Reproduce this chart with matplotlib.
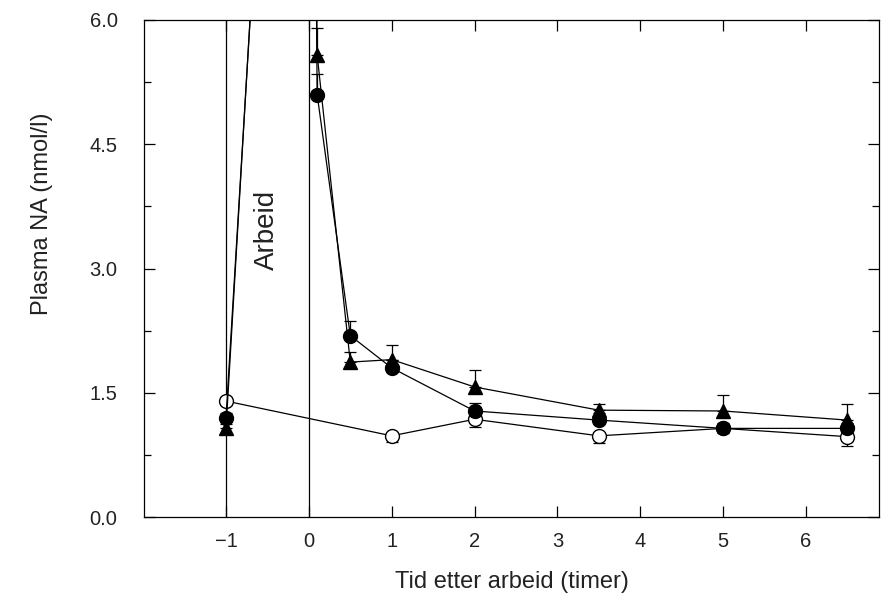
import matplotlib.pyplot as plt
import numpy as np

# time after work (hours); 0 = end of work, peak during work clipped above 6
tid = [-1, 0, 0.1, 0.5, 1, 2, 3.5, 5, 6.5]
tid_kontroll = [-1, 1, 2, 3.5, 5, 6.5]

kontroll = [1.40, 0.98, 1.18, 0.98, 1.07, 0.97]
kontroll_err = [0.05, 0.08, 0.09, 0.09, 0.05, 0.11]

sirkel = [1.20, 17.7, 5.10, 2.19, 1.80, 1.28, 1.17, 1.07, 1.07]
sirkel_err = [0.05, 0.0, 0.25, 0.18, 0.10, 0.10, 0.08, 0.06, 0.06]

trekant = [1.07, 18.1, 5.58, 1.87, 1.90, 1.57, 1.29, 1.28, 1.17]
trekant_err = [0.05, 0.0, 0.32, 0.12, 0.18, 0.21, 0.08, 0.19, 0.19]

x_ticks = [-1, 0, 1, 2, 3, 4, 5, 6]
y_ticks = [0.0, 1.5, 3.0, 4.5, 6.0]

plt.rcParams['font.family'] = ['Liberation Sans', 'DejaVu Sans']
tekst = '#222222'

fig = plt.figure(figsize=(8.81, 6.0), dpi=100)
ax = fig.add_axes([0.1634, 0.1383, 0.8343, 0.8284])

# work period markers
ax.axvline(-1, color='black', lw=0.9, zorder=1)
ax.axvline(0, color='black', lw=0.9, zorder=1)

ax.errorbar(tid_kontroll, kontroll, yerr=[kontroll_err, [0] * len(kontroll_err)],
            fmt='o', ls='-', color='black', mfc='white', mec='black', ms=10,
            lw=0.9, elinewidth=0.9, capsize=4, capthick=0.9, zorder=3)
ax.errorbar(tid, trekant, yerr=[[0] * len(trekant_err), trekant_err],
            fmt='^', ls='-', color='black', ms=10, lw=0.9,
            elinewidth=0.9, capsize=4, capthick=0.9, zorder=4)
ax.errorbar(tid, sirkel, yerr=[[0] * len(sirkel_err), sirkel_err],
            fmt='o', ls='-', color='black', ms=10, lw=0.9,
            elinewidth=0.9, capsize=4, capthick=0.9, zorder=5)

ax.text(-0.5, 3.47, 'Arbeid', rotation=90, ha='center', va='center',
        fontsize=20, color=tekst)

ax.set_xlim(-1.99, 6.88)
ax.set_ylim(0, 6.0)
ax.set_xticks(x_ticks)
ax.set_xticklabels(['\u22121'] + [str(t) for t in x_ticks[1:]])
ax.set_yticks(y_ticks)
ax.set_yticklabels(['%.1f' % v for v in y_ticks])
ax.set_yticks(np.arange(0.75, 6.0, 1.5), minor=True)

ax.tick_params(which='both', direction='in', top=True, right=True,
               labelsize=14.5, width=0.9, labelcolor=tekst)
ax.tick_params(which='major', length=8)
ax.tick_params(which='minor', length=5)
ax.tick_params(axis='y', pad=19)
ax.tick_params(axis='x', pad=11)
for s in ax.spines.values():
    s.set_linewidth(0.9)

ax.set_xlabel('Tid etter arbeid (timer)', fontsize=17, labelpad=14, color=tekst)
ax.set_ylabel('Plasma NA (nmol/l)', fontsize=17, color=tekst)
ax.yaxis.set_label_coords(-0.124, 0.61)

fig.savefig('out.png', dpi=100)
